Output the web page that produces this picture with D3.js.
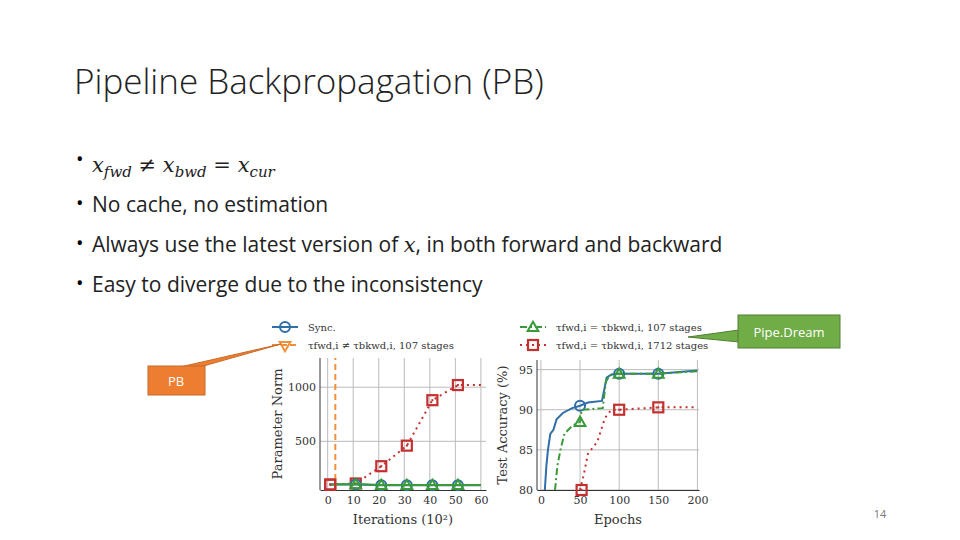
<!DOCTYPE html>
<html><head><meta charset="utf-8">
<script src="https://cdn.jsdelivr.net/npm/d3@7"></script>
<style>body{margin:0;background:#fff}svg{display:block}</style>
</head><body><svg id="s" width="960" height="540"></svg>
<script>
var bullets = ['No cache, no estimation', 'Always use the latest version of x, in both forward and backward', 'Easy to diverge due to the inconsistency'];
var iterTicks = [0, 10, 20, 30, 40, 50, 60];
var normTicks = [500, 1000];
var pbSync = [[1, 100], [11, 100], [21, 95], [31, 95], [41, 95], [51, 95], [60, 95]];
var pbSame107 = [[1, 100], [11, 105], [21, 97], [31, 97], [41, 97], [51, 97], [60, 97]];
var pb1712 = [[1, 100], [11, 110], [21, 270], [31, 460], [41, 880], [51, 1020], [60, 1020]];
var pbDiverge = 3;
var epochTicks = [0, 50, 100, 150, 200];
var accTicks = [80, 85, 90, 95];
var accSync = [[5, 80], [7, 83], [9, 85], [12, 87], [16, 87.5], [20, 88.8], [28, 89.6], [40, 90.2], [50, 90.5], [60, 90.9], [78, 91.1], [84, 94], [90, 94.4], [100, 94.5], [150, 94.5], [200, 94.9]];
var acc107 = [[18, 80], [21, 83], [25, 85], [30, 87], [40, 88], [50, 88.5], [52, 90], [79, 90.2], [83, 93.5], [88, 94.3], [100, 94.5], [150, 94.5], [200, 94.8]];
var acc1712 = [[50, 80], [55, 82], [60, 84.5], [72, 86], [82, 89], [90, 90], [100, 90], [150, 90.3], [200, 90.3]];

var svg = d3.select('#s');
var blue = '#2f6ea8', green = '#3a9a3a', red = '#c43030', orange = '#f0903a';

svg.append('text').attr('x', 74).attr('y', 94).style('font-family', 'Open Sans').style('font-weight', 300)
    .style('font-size', '35px').attr('fill', '#222').text('Pipeline Backpropagation (PB)');

// bullet list
var first = svg.append('text').attr('x', 92).attr('y', 172).style('font-family', 'DejaVu Serif').style('font-size', '21px').attr('fill', '#222');
[['x', 'fwd', ' ≠ '], ['x', 'bwd', ' = '], ['x', 'cur', '']].forEach(function(p) {
    first.append('tspan').style('font-style', 'italic').text(p[0]);
    first.append('tspan').attr('dy', 5).style('font-size', '15px').style('font-style', 'italic').text(p[1]);
    first.append('tspan').attr('dy', -5).text(p[2]);
});
[0, 1, 2, 3].forEach(function(i) {
    svg.append('text').attr('x', 76).attr('y', (i === 0 ? 166 : 212 + (i - 1) * 40 - 2)).style('font-family', 'Open Sans').style('font-size', '20px').text('•');
});
bullets.forEach(function(b, i) {
    var t = svg.append('text').attr('x', 92).attr('y', 212 + i * 40).style('font-family', 'Open Sans').style('font-size', '21px').attr('fill', '#222');
    if (b.indexOf(' x,') > 0) {
        var p = b.split(' x,');
        t.append('tspan').text(p[0] + ' ');
        t.append('tspan').style('font-family', 'DejaVu Serif').style('font-style', 'italic').text('x');
        t.append('tspan').text(',' + p[1]);
    } else t.text(b);
});

function marker(g, type, x, y, col) {
    if (type === 'c') g.append('circle').attr('cx', x).attr('cy', y).attr('r', 5).attr('fill', 'none').attr('stroke', col).attr('stroke-width', 2);
    else if (type === 't') g.append('path').attr('d', d3.symbol(d3.symbolTriangle, 50)()).attr('transform', `translate(${x},${y + 1})`).attr('fill', 'none').attr('stroke', col).attr('stroke-width', 2);
    else if (type === 'v') g.append('path').attr('d', d3.symbol(d3.symbolTriangle, 50)()).attr('transform', `translate(${x},${y}) rotate(180)`).attr('fill', 'none').attr('stroke', col).attr('stroke-width', 2);
    else { g.append('rect').attr('x', x - 5).attr('y', y - 5).attr('width', 10).attr('height', 10).attr('fill', 'none').attr('stroke', col).attr('stroke-width', 2.2);
        g.append('rect').attr('x', x - 1).attr('y', y - 1).attr('width', 2).attr('height', 2).attr('fill', col); }
}
var serif = 'DejaVu Serif';

function chart(o) {
    var g = svg.append('g');
    var x = d3.scaleLinear().domain(o.xd).range(o.xr);
    var y = d3.scaleLinear().domain(o.yd).range(o.yr);
    o.xt.forEach(function(v) { g.append('line').attr('x1', x(v)).attr('x2', x(v)).attr('y1', o.yr[0]).attr('y2', o.yr[1]).attr('stroke', '#bbb'); });
    o.yt.forEach(function(v) { g.append('line').attr('y1', y(v)).attr('y2', y(v)).attr('x1', o.xr[0]).attr('x2', o.xr[1]).attr('stroke', '#bbb'); });
    var xa = g.append('g').attr('transform', `translate(0,${o.yr[0]})`).call(d3.axisBottom(x).tickValues(o.xt).tickFormat(d3.format('d')).tickSize(0).tickPadding(6));
    var ya = g.append('g').attr('transform', `translate(${o.xr[0]},0)`).call(d3.axisLeft(y).tickValues(o.yt).tickFormat(d3.format('d')).tickSize(0).tickPadding(4));
    [xa, ya].forEach(function(a) { a.select('.domain').attr('stroke', '#333'); a.selectAll('text').style('font-family', serif).style('font-size', '11px').attr('fill', '#333'); });
    ya.select('.domain').attr('d', `M0,${o.yr[0]}V${o.yr[1]}`);
    g.append('text').attr('x', (o.xr[0] + o.xr[1]) / 2).attr('y', o.yr[0] + 34).attr('text-anchor', 'middle').style('font-family', serif).style('font-size', '13px').attr('fill', '#333').text(o.xl);
    g.append('text').attr('transform', `translate(${o.xr[0] - o.ylOff},${(o.yr[0] + o.yr[1]) / 2}) rotate(-90)`).attr('text-anchor', 'middle').style('font-family', serif).style('font-size', '13px').attr('fill', '#333').text(o.yl);
    var line = d3.line().x(function(d) { return x(d[0]); }).y(function(d) { return y(d[1]); });
    o.series.forEach(function(s) {
        g.append('path').datum(s.data).attr('d', line).attr('fill', 'none').attr('stroke', s.col).attr('stroke-width', 2).attr('stroke-dasharray', s.dash || null);
        (s.marks || []).forEach(function(m) { marker(g, s.type, x(m[0]), y(m[1]), s.col); });
    });
    return { g: g, x: x, y: y };
}

var left = chart({ xd: [-3, 62], xr: [320, 486], yd: [50, 1270], yr: [490, 358], xt: iterTicks, yt: normTicks,
    xl: 'Iterations (10²)', yl: 'Parameter Norm', ylOff: 38,
    series: [
        { data: pb1712, col: red, dash: '2,4', type: 's', marks: pb1712.slice(0, 6) },
        { data: pbSync, col: blue, type: 'c', marks: pbSync.slice(1, 6) },
        { data: pbSame107, col: green, type: 't', marks: pbSame107.slice(1, 6) }
    ] });
left.g.append('line').attr('x1', left.x(pbDiverge)).attr('x2', left.x(pbDiverge)).attr('y1', 490).attr('y2', 358).attr('stroke', orange).attr('stroke-width', 2).attr('stroke-dasharray', '6,4');
marker(left.g, 's', left.x(1), left.y(100), red);

chart({ xd: [-5, 202], xr: [537, 699], yd: [80, 96.2], yr: [490, 360], xt: epochTicks, yt: accTicks,
    xl: 'Epochs', yl: 'Test Accuracy (%)', ylOff: 30,
    series: [
        { data: acc1712, col: red, dash: '2,4', type: 's', marks: [[52, 80], [100, 90], [150, 90.3]] },
        { data: accSync, col: blue, type: 'c', marks: [[50, 90.5], [100, 94.5], [150, 94.5]] },
        { data: acc107, col: green, dash: '7,3,2,3', type: 't', marks: [[50, 88.5], [100, 94.5], [150, 94.5]] }
    ] });

// legends
function legItem(x, y, col, type, dash, label) {
    svg.append('line').attr('x1', x).attr('x2', x + 26).attr('y1', y).attr('y2', y).attr('stroke', col).attr('stroke-width', 2).attr('stroke-dasharray', dash || null);
    marker(svg, type, x + 13, y, col);
    svg.append('text').attr('x', x + 36).attr('y', y + 4).style('font-family', serif).style('font-size', '10px').attr('fill', '#333').text(label);
}
legItem(272, 327, blue, 'c', null, 'Sync.');
legItem(272, 345, orange, 'v', '6,3', 'τfwd,i ≠ τbkwd,i, 107 stages');
legItem(520, 327, green, 't', '7,3,2,3', 'τfwd,i = τbkwd,i, 107 stages');
legItem(520, 345, red, 's', '2,4', 'τfwd,i = τbkwd,i, 1712 stages');

// callouts
svg.append('path').attr('d', 'M180,367 L281,344 L200,367 Z').attr('fill', '#ED7D31').attr('stroke', '#c86a28');
svg.append('rect').attr('x', 148).attr('y', 366).attr('width', 57).attr('height', 29).attr('fill', '#ED7D31').attr('stroke', '#c86a28');
svg.append('text').attr('x', 176).attr('y', 386).attr('text-anchor', 'middle').attr('fill', '#fff').style('font-family', 'Open Sans').style('font-size', '13px').text('PB');
svg.append('path').attr('d', 'M739,330 L688,337 L739,342 Z').attr('fill', '#70AD47').attr('stroke', '#507e34');
svg.append('rect').attr('x', 738).attr('y', 315).attr('width', 102).attr('height', 33).attr('fill', '#70AD47').attr('stroke', '#507e34');
svg.append('text').attr('x', 789).attr('y', 337).attr('text-anchor', 'middle').attr('fill', '#fff').style('font-family', 'Open Sans').style('font-size', '13px').text('Pipe.Dream');
svg.append('text').attr('x', 880).attr('y', 518).attr('text-anchor', 'middle').attr('fill', '#777').style('font-family', 'Open Sans').style('font-size', '11px').text('14');
</script></body></html>
